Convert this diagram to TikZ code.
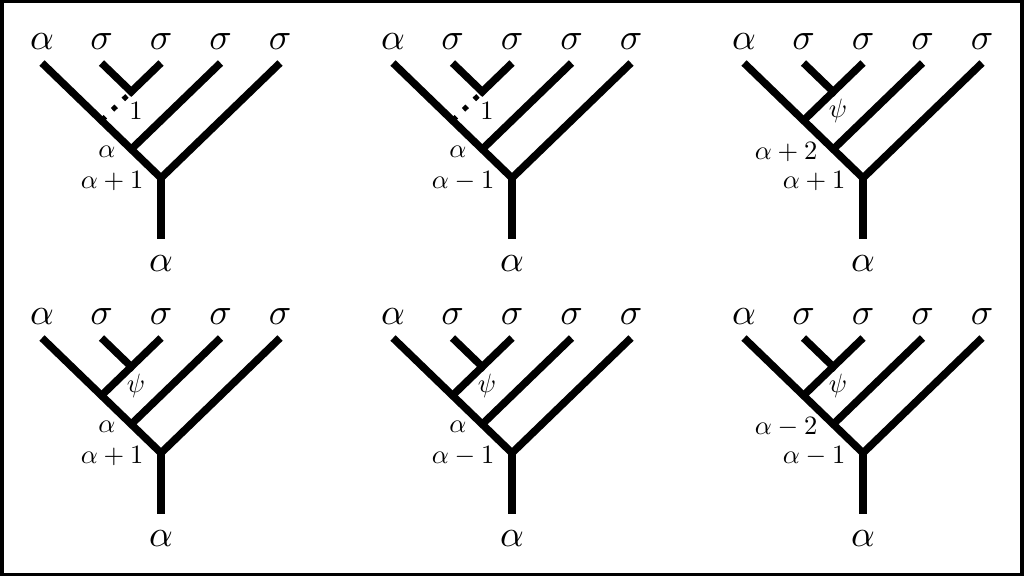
\documentclass[tikz,border=0pt]{standalone}
\tikzset{
  thickedge/.style={line width=7.5pt, line join=miter, line cap=butt},
  solidpsi/.style={line width=7.5pt, line cap=butt},
  dottededge/.style={line width=5pt, line cap=butt, dash pattern=on 5pt off 10pt, dash phase=9pt},
  biglab/.style={inner sep=0pt, scale=3.7},
  smalllab/.style={inner sep=0pt, scale=2.65}
}
\newcommand\treepanel[7]{%
  \begin{scope}[shift={(#1,#2)}]
    \coordinate (#3r) at (0,0);
    \coordinate (#3b) at (0,61);
    \coordinate (#3l0) at (-119,-115);
    \coordinate (#3l1) at (-59.5,-115);
    \coordinate (#3l2) at (0,-115);
    \coordinate (#3l3) at (59.5,-115);
    \coordinate (#3l4) at (119,-115);
    \coordinate (#3v) at (-29.75,-86.25);
    \coordinate (#3e) at (-59.5,-57.5);
    \coordinate (#3j) at (-29.75,-28.75);
    \draw[#4] (#3v) -- (#3e);
    \draw[thickedge] (#3l0) -- (#3r) -- (#3l4);
    \draw[thickedge] (#3r) -- (#3b);
    \draw[thickedge] (#3l3) -- (#3j);
    \draw[thickedge] (#3l1) -- (#3v) -- (#3l2);
    \node[biglab] (#3t0) at (-119,-136) {$\alpha$};
    \node[biglab] (#3t1) at (-59.5,-136) {$\sigma$};
    \node[biglab] (#3t2) at (0,-136) {$\sigma$};
    \node[biglab] (#3t3) at (59.5,-136) {$\sigma$};
    \node[biglab] (#3t4) at (119,-136) {$\sigma$};
    \node[biglab] (#3tb) at (0,86) {$\alpha$};
    \node[smalllab] (#3el) at (-25,-67) {#5};
    \node[smalllab, anchor=east] (#3jl) at (-45,-26) {#6};
    \node[smalllab, anchor=east] (#3rl) at (-17,3) {#7};
  \end{scope}}
\begin{document}
\begin{tikzpicture}[x=1pt,y=-1pt]
  \fill[black] (0,0) rectangle (1024,576);
  \fill[white] (4,3) rectangle (1020,573);
  \treepanel{161}{178}{a}{dottededge}{$1$}{$\alpha$}{$\alpha+1$}
  \treepanel{512}{178}{b}{dottededge}{$1$}{$\alpha$}{$\alpha-1$}
  \treepanel{863}{178}{c}{solidpsi}{$\psi$}{$\alpha+2$}{$\alpha+1$}
  \treepanel{161}{453}{d}{solidpsi}{$\psi$}{$\alpha$}{$\alpha+1$}
  \treepanel{512}{453}{e}{solidpsi}{$\psi$}{$\alpha$}{$\alpha-1$}
  \treepanel{863}{453}{f}{solidpsi}{$\psi$}{$\alpha-2$}{$\alpha-1$}
\end{tikzpicture}
\end{document}
